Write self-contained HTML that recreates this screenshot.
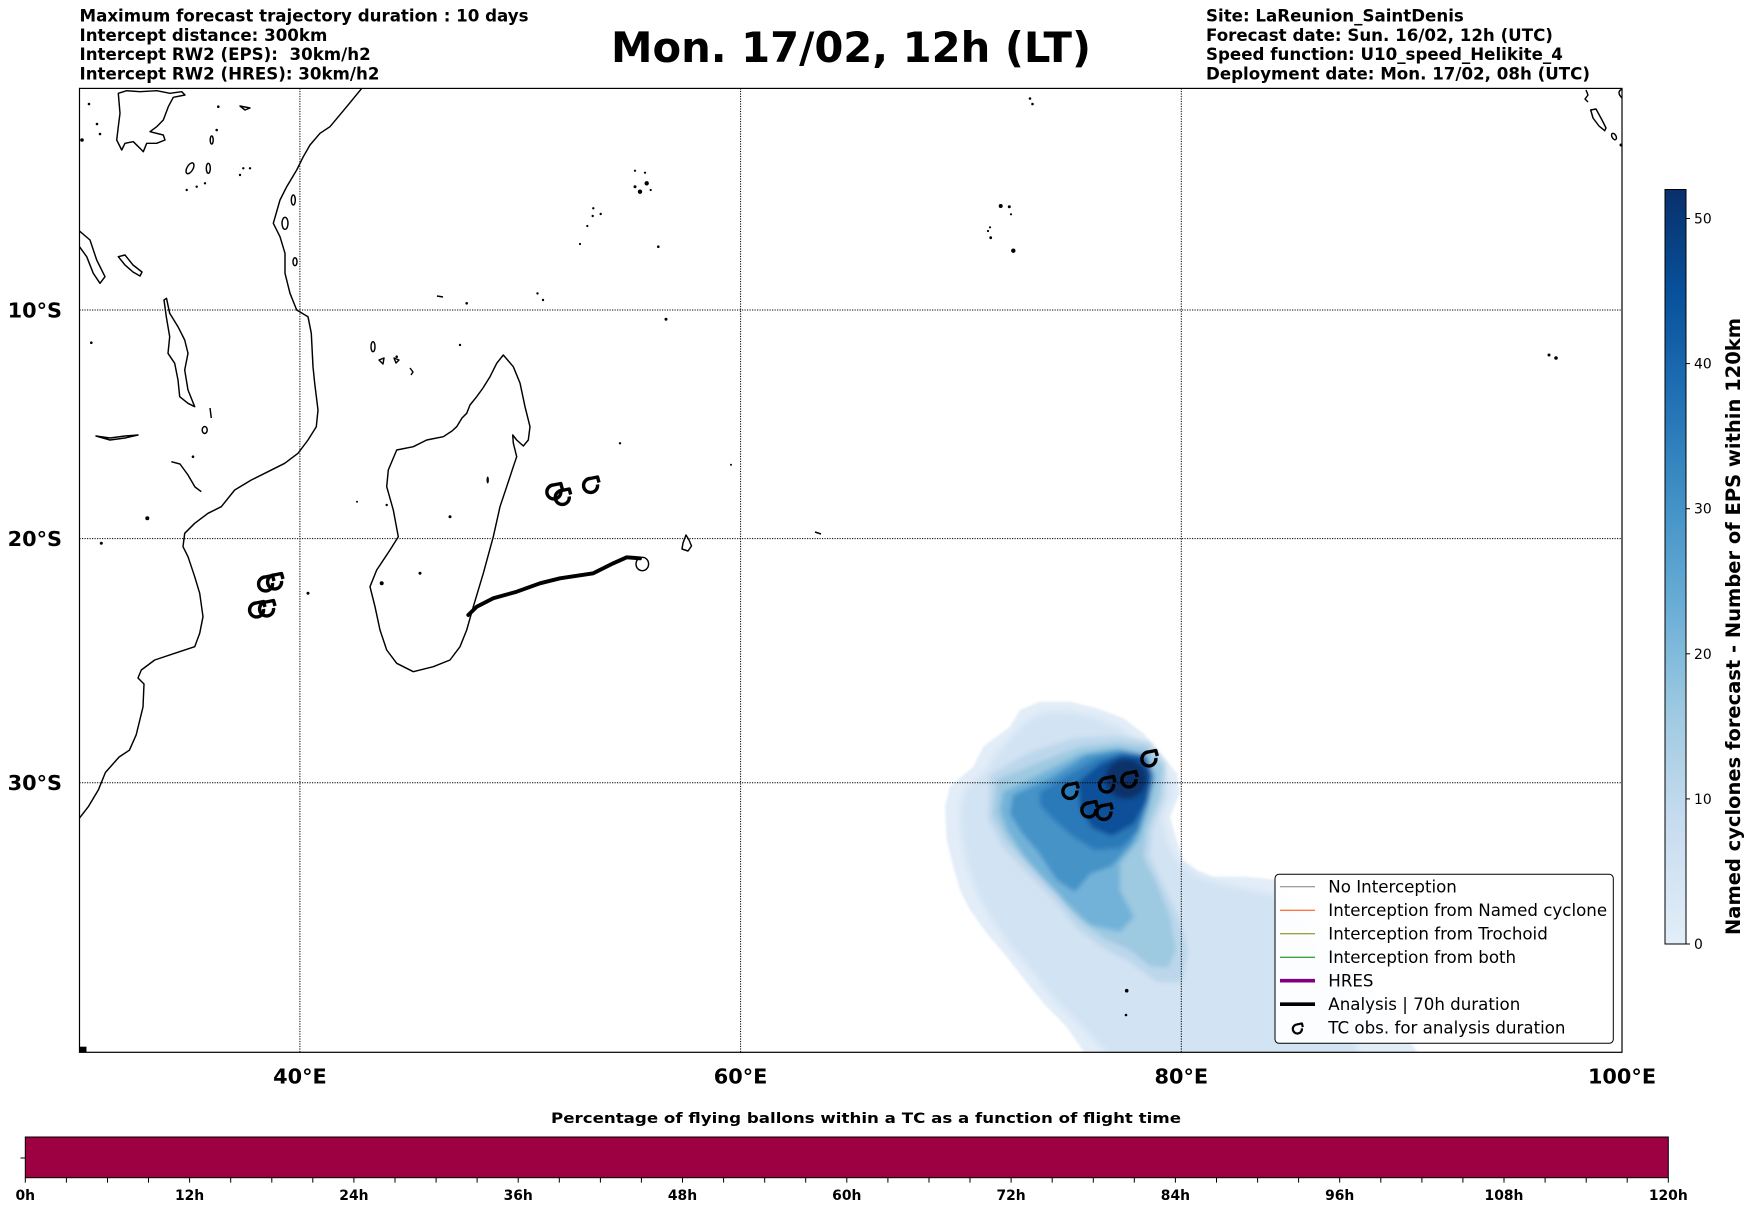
<!DOCTYPE html>
<html><head><meta charset="utf-8"><style>
html,body{margin:0;padding:0;background:#fff;}
svg{display:block;}
text{font-family:"DejaVu Sans","Liberation Sans",sans-serif;}
</style></head><body>
<svg width="1752" height="1213" viewBox="0 0 1752 1213" xmlns="http://www.w3.org/2000/svg">
<defs>
<linearGradient id="cb" x1="0" y1="1" x2="0" y2="0">
<stop offset="0" stop-color="#e3eef9"/><stop offset="0.028" stop-color="#deebf7"/><stop offset="0.167" stop-color="#c6dbef"/><stop offset="0.306" stop-color="#9ecae1"/><stop offset="0.444" stop-color="#6baed6"/><stop offset="0.583" stop-color="#4292c6"/><stop offset="0.722" stop-color="#2171b5"/><stop offset="0.861" stop-color="#08519c"/><stop offset="1" stop-color="#08306b"/>
</linearGradient>
<filter id="bl" x="-20%" y="-20%" width="140%" height="140%"><feGaussianBlur stdDeviation="2.5"/></filter>
<filter id="bl2" x="-20%" y="-20%" width="140%" height="140%"><feGaussianBlur stdDeviation="3.5"/></filter>
<filter id="bl1" x="-10%" y="-10%" width="120%" height="120%"><feGaussianBlur stdDeviation="1"/></filter>
<clipPath id="mapclip"><rect x="79.5" y="88.4" width="1542.5" height="963.9"/></clipPath>
<g id="tc"><path d="M7.5,-1 A7,7 0 1 1 0,-7 L7.5,-8.5 L9,-3" fill="none" stroke="#000" stroke-width="3.4" stroke-linejoin="round"/></g>
</defs>

<!-- header texts -->
<g font-weight="bold" font-size="16.67" fill="#000" style="white-space:pre">
<text x="79.5" y="21.6">Maximum forecast trajectory duration : 10 days</text>
<text x="79.5" y="40.9">Intercept distance: 300km</text>
<text x="79.5" y="60.2" xml:space="preserve">Intercept RW2 (EPS):  30km/h2</text>
<text x="79.5" y="79.5">Intercept RW2 (HRES): 30km/h2</text>
<text x="1206" y="21.6">Site: LaReunion_SaintDenis</text>
<text x="1206" y="40.9">Forecast date: Sun. 16/02, 12h (UTC)</text>
<text x="1206" y="60.2">Speed function: U10_speed_Helikite_4</text>
<text x="1206" y="79.5">Deployment date: Mon. 17/02, 08h (UTC)</text>
</g>
<text x="851" y="62" font-weight="bold" font-size="41.67" text-anchor="middle" textLength="480" lengthAdjust="spacingAndGlyphs">Mon. 17/02, 12h (LT)</text>

<g clip-path="url(#mapclip)">
<!-- EPS density blob -->
<path fill="#e2edf8" filter="url(#bl1)" d="M1020,710 L1040,701.7 L1070,701.7 L1096.7,708.3 L1123.3,718.3 L1143.3,733.3 L1163.3,756.7 L1176.7,773.3 L1180,793.3 L1170,816.7 L1176.7,840 L1183.3,860 L1196.7,870 L1213,876.7 L1246.7,876.7 L1276,880 L1300,900 L1330,940 L1380,1000 L1420,1056 L1086.7,1056 L1066.7,1026.7 L1046.7,1006.7 L1030,986.7 L1006.7,956.7 L986.7,933.3 L970,910 L960,890 L953.3,866.7 L946.7,840 L945,806.7 L950,786.7 L973.3,766.7 L983.3,746.7 L1010,726.7 Z"/>
<path fill="#d2e3f3" filter="url(#bl2)" d="M1025,722 L1045,712 L1070,712 L1095,718 L1120,728 L1140,742 L1158,762 L1170,780 L1172,795 L1162,816 L1168,842 L1178,862 L1200,878 L1240,888 L1276,895 L1300,930 L1330,980 L1360,1056 L1110,1056 L1080,1025 L1055,1000 L1035,975 L1012,948 L992,920 L978,895 L968,868 L962,840 L960,810 L965,790 L985,772 L995,755 L1012,737 Z"/>
<g filter="url(#bl)">
<path fill="#bcd7eb" d="M990,775 L1030,752 L1075,738 L1116.7,736 L1150,742 L1166,764 L1164,798 L1152,830 L1150,856 L1162,883 L1178,916 L1188,950 L1182,982 L1156.7,982 L1130,962 L1103.3,948 L1076.7,928 L1054,900 L1026,872 L1002,846 L988,818 Z"/>
<path fill="#9dc9e1" d="M996.7,780 L1036.7,763.3 L1080,746.7 L1116.7,743.3 L1146.7,746.7 L1163.3,766.7 L1160,796.7 L1146.7,830 L1143.3,856.7 L1156.7,883.3 L1170,916.7 L1176,950 L1168,968 L1150,966 L1130,950 L1103.3,938 L1076.7,918 L1056.7,893 L1030,866 L1006.7,840 L993.3,814 Z"/>
<path fill="#72b2d8" d="M1003,792 L1040,774 L1080,754 L1116.7,748 L1145,754 L1156,776 L1149,806.7 L1139,840 L1120,863.3 L1120,890 L1134,916.7 L1120,932 L1090,925 L1068,905 L1044,880 L1024,856.7 L1007,830 L1000,810 Z"/>
<path fill="#4593c7" d="M1013,795 L1050,778 L1086.7,755 L1120,750 L1147,755 L1153,780 L1145,810 L1132,843.3 L1112,866 L1090,874 L1075,892 L1056.7,880 L1038,852 L1021,832 L1010,814 Z"/>
<path fill="#2a79b9" d="M1040,792 L1070,774 L1098,758 L1125,752 L1147,757 L1153,778 L1148,802 L1138,832 L1120,848 L1095,850 L1072,836 L1052,818 L1040,805 Z"/>
<path fill="#0d4f98" d="M1078,782 L1100,764 L1120,755 L1142,756 L1152,772 L1147,800 L1134,824 L1112,836 L1092,828 L1080,808 Z"/>
<ellipse cx="1126" cy="779" rx="21" ry="20" fill="#08306b"/>
</g>

<!-- gridlines -->
<g stroke="#000" stroke-width="1" stroke-dasharray="1.2,1.3" fill="none">
<line x1="299.9" y1="88.4" x2="299.9" y2="1052.3"/>
<line x1="740.6" y1="88.4" x2="740.6" y2="1052.3"/>
<line x1="1181.3" y1="88.4" x2="1181.3" y2="1052.3"/>
<line x1="79.5" y1="310" x2="1622" y2="310"/>
<line x1="79.5" y1="538.6" x2="1622" y2="538.6"/>
<line x1="79.5" y1="782.7" x2="1622" y2="782.7"/>
</g>

<!-- coastlines -->
<g fill="none" stroke="#000" stroke-width="1.45" stroke-linejoin="round">
<path d="M361.7,88.4 L346.7,106.7 L330,126.7 L320,133.3 L310,145 L303.3,156.7 L296.7,170 L286.7,186.7 L280,200 L273.3,223.3 L280,236.7 L285,253.3 L285,273.3 L290,293.3 L296.7,310 L308,316.7 L311.3,333.3 L313,366.7 L314.7,383.3 L318,410 L316.3,426.7 L308,440 L298,453.3 L284.7,463.3 L268,471.7 L251.3,480 L234.7,490 L221.3,506.7 L208,513.3 L194.7,523.3 L184.7,533.3 L183,546.7 L188,556.7 L194.7,576.7 L199.7,593.3 L203,616.7 L199.7,633.3 L194.7,646.7 L174.7,653.3 L154.7,660 L141.3,670 L138,678 L144,684 L143,707 L136.2,734.8 L129.4,750.2 L119.1,757 L105.4,772.5 L98.5,789.6 L88.3,806.7 L79.5,818"/>
<path d="M503.3,355 L513.3,366.7 L520,383 L525,406.7 L530,426.7 L528.3,440 L523.3,446 L516.7,440 L512.7,435 L513.3,443 L516.7,456.7 L513.3,466.7 L506.7,486.7 L500,506.7 L493.3,536.7 L483.3,573.3 L473.3,606.7 L466.7,630 L460,646.7 L450,660 L433.3,666.7 L413.3,671.7 L396.7,663.3 L386.7,650 L380,630 L375,606.7 L370,586.7 L376.7,570 L390,550 L398.3,536.7 L393.3,510 L386.7,486.7 L388.3,470 L396.7,450 L413.3,446.7 L426.7,440 L443.3,436.7 L452,431 L456.7,426.7 L462,418 L466.7,413.3 L470,405 L476.7,396.7 L483,388 L490,376.7 L496.7,363.3 Z"/>
<path d="M118.3,93.3 L126.7,90.7 L140,91.7 L156.7,90.7 L170,93.3 L181.7,91.7 L185,95 L173.3,97.3 L168.3,106.7 L163.3,120 L156.7,126.7 L150,131.7 L163.3,135 L165,140 L156.7,143.3 L146.7,143.3 L143.3,151.7 L140,148.3 L133.3,141.7 L125,143.3 L121.7,150 L116.7,140 L118.3,126.7 L120,113.3 Z"/>
<path d="M79.5,231 L90,240 L96.7,260 L105,276.7 L100,283.3 L93.3,273.3 L86.7,256.7 L79.5,246.7"/>
<path d="M118.3,256.7 L125,255 L133,265 L142,272 L140,276 L133,272 L125,265 Z"/>
<path d="M166.5,298.3 L169.7,313.3 L178,326.7 L184.7,340 L188,353.3 L184.7,370 L188,390 L194.7,406.7 L188,403.3 L179.7,396.7 L178,380 L174.7,363.3 L168,353.3 L169.7,336.7 L166.3,316.7 L164,300 Z"/>
<path d="M96,436 L110,438 L125,436 L138,435 L125,438 L110,440 Z"/>
<path d="M171.3,461.7 L180,464 L188,475 L195,487 L201.3,491.7"/>
<path d="M210,408 L211.3,418"/>
<ellipse cx="204.7" cy="430" rx="2.5" ry="3.5"/>
<ellipse cx="190" cy="168.3" rx="3" ry="6" transform="rotate(30 190 168.3)"/>
<ellipse cx="208.3" cy="168.3" rx="2" ry="5"/>
<ellipse cx="211.7" cy="140" rx="1.5" ry="4"/>
<path d="M240,106 L250,108 L245,110 Z"/>
<ellipse cx="293.3" cy="200" rx="2" ry="5"/>
<ellipse cx="285" cy="223.3" rx="3" ry="6"/>
<ellipse cx="295" cy="261.7" rx="2" ry="4"/>
<ellipse cx="373" cy="346.7" rx="2" ry="5"/>
<path d="M379,360 L384,358 L383,364 Z"/>
<path d="M394,358 L399,360 L396,363 Z"/>
<path d="M410,368 L413,372 L411,375"/>
<path d="M437,296 L443,297"/>
<ellipse cx="642.3" cy="564" rx="6.3" ry="6.7"/>
<path d="M686,535 L689,540 L691.5,546 L688,551 L682,549 L683,543 Z"/>
<path d="M1590.7,110 L1596,109 L1602,120 L1606,128 L1604.7,130.7 L1599,126 L1593,118 Z"/>
<ellipse cx="1614" cy="136.5" rx="2" ry="3.5" transform="rotate(-30 1614 136.5)"/>
<path d="M1622,89 Q1616,92 1622,98"/>
<path d="M1586,90 L1588,95 L1585,99 L1588,102"/>
<path d="M815,532 L821,534"/>
</g>
<g fill="#000">
<circle cx="91.3" cy="342.7" r="1.3"/><circle cx="193" cy="456.7" r="1.3"/><circle cx="147.3" cy="518.3" r="2"/><circle cx="101.3" cy="543.3" r="1.5"/>
<circle cx="308" cy="593.3" r="1.5"/><circle cx="460" cy="345" r="1.2"/><circle cx="620" cy="443.3" r="1.2"/><circle cx="386.7" cy="505" r="1.2"/>
<circle cx="450" cy="516.7" r="1.5"/><circle cx="420" cy="573.3" r="1.5"/><ellipse cx="487.7" cy="480" rx="1.2" ry="3.5"/><circle cx="381.7" cy="583.3" r="2"/>
<circle cx="396.7" cy="356.7" r="1.3"/><circle cx="466.7" cy="303.3" r="1.3"/><circle cx="82" cy="140" r="1.8"/><circle cx="97" cy="124" r="1.3"/><circle cx="100" cy="134" r="1.3"/>
<circle cx="216.7" cy="130" r="1.3"/><circle cx="218.3" cy="106.7" r="1.3"/><circle cx="186.7" cy="190" r="1.2"/><circle cx="196.7" cy="186.7" r="1.2"/><circle cx="205" cy="183.3" r="1.2"/>
<circle cx="243.3" cy="168.3" r="1.2"/><circle cx="250" cy="168.3" r="1.2"/><circle cx="240" cy="175" r="1.2"/><circle cx="89" cy="104" r="1.3"/>
<circle cx="640" cy="191.7" r="2.2"/><circle cx="646.7" cy="183.3" r="2.2"/><circle cx="635" cy="186.7" r="1.5"/><circle cx="635" cy="170.7" r="1.1"/><circle cx="645" cy="172.7" r="1.1"/><circle cx="650.7" cy="190" r="1.1"/>
<circle cx="593.3" cy="208.3" r="1.2"/><circle cx="592.7" cy="216" r="1.2"/><circle cx="600.7" cy="214" r="1.2"/><circle cx="587.3" cy="226" r="1.1"/><circle cx="580" cy="244" r="1.1"/><circle cx="658.3" cy="246.7" r="1.3"/><circle cx="666" cy="319.3" r="1.5"/>
<circle cx="537.5" cy="293.4" r="1.2"/><circle cx="543" cy="300" r="1.2"/><circle cx="731" cy="464.7" r="1"/><circle cx="357" cy="501.7" r="1"/>
<circle cx="1000.7" cy="206" r="2"/><circle cx="1009.3" cy="206.7" r="1.5"/><circle cx="1011" cy="214.3" r="1.1"/><circle cx="990" cy="227.3" r="1.1"/><circle cx="988" cy="231" r="1.1"/><circle cx="990.7" cy="237.7" r="1.4"/><circle cx="1013.3" cy="250.7" r="2.2"/>
<circle cx="1030" cy="98.5" r="1.3"/><circle cx="1032.5" cy="104" r="1.3"/><circle cx="1549" cy="355" r="1.5"/><circle cx="1556" cy="358" r="1.8"/><circle cx="1621" cy="145" r="1.5"/>
<circle cx="1126.7" cy="990.7" r="1.8"/><circle cx="1126" cy="1015" r="1.3"/>
<rect x="79.5" y="1046.7" width="7" height="5.6"/>
</g>

<!-- analysis track -->
<polyline fill="none" stroke="#000" stroke-width="3.9" stroke-linejoin="round" stroke-linecap="round" points="468.3,615 476.7,606.7 493.3,598.3 516.7,591.7 540,583.3 560,578.3 593.3,573.3 613.3,563.3 626.7,557.3 640,558.3"/>

<!-- TC markers -->
<use href="#tc" x="265" y="584"/><use href="#tc" x="274" y="582"/>
<use href="#tc" x="256" y="610"/><use href="#tc" x="266" y="609"/>
<use href="#tc" x="553.3" y="492"/><use href="#tc" x="561.7" y="497.5"/><use href="#tc" x="590" y="485.5"/>
<use href="#tc" x="1148.3" y="759"/><use href="#tc" x="1128.3" y="780"/><use href="#tc" x="1106" y="785"/>
<use href="#tc" x="1069.3" y="791.5"/><use href="#tc" x="1088.3" y="810"/><use href="#tc" x="1103.3" y="812.5"/>
</g>

<!-- map frame -->
<rect x="79.5" y="88.4" width="1542.5" height="963.9" fill="none" stroke="#000" stroke-width="1.2"/>

<!-- legend -->
<rect x="1275" y="874.3" width="338.3" height="169" rx="4" ry="4" fill="#fff" fill-opacity="0.9" stroke="#000" stroke-width="1"/>
<g stroke-linecap="butt">
<line x1="1280" y1="886.7" x2="1315" y2="886.7" stroke="#808080" stroke-width="1"/>
<line x1="1280" y1="910.2" x2="1315" y2="910.2" stroke="#ff4500" stroke-width="1"/>
<line x1="1280" y1="933.7" x2="1315" y2="933.7" stroke="#808000" stroke-width="1"/>
<line x1="1280" y1="957.2" x2="1315" y2="957.2" stroke="#008000" stroke-width="1"/>
<line x1="1280" y1="980.7" x2="1315" y2="980.7" stroke="#800080" stroke-width="3.6"/>
<line x1="1280" y1="1004.2" x2="1315" y2="1004.2" stroke="#000" stroke-width="3.6"/>
</g>
<use href="#tc" transform="translate(1297 1029) scale(0.65)"/>
<g font-size="16.67" fill="#000">
<text x="1328.3" y="892.7">No Interception</text>
<text x="1328.3" y="916.2">Interception from Named cyclone</text>
<text x="1328.3" y="939.7">Interception from Trochoid</text>
<text x="1328.3" y="963.2">Interception from both</text>
<text x="1328.3" y="986.7">HRES</text>
<text x="1328.3" y="1010.2">Analysis | 70h duration</text>
<text x="1328.3" y="1033.7">TC obs. for analysis duration</text>
</g>

<!-- axis labels -->
<g font-weight="bold" font-size="20.83" fill="#000">
<text x="62" y="317.5" text-anchor="end">10°S</text>
<text x="62" y="546.1" text-anchor="end">20°S</text>
<text x="62" y="790.2" text-anchor="end">30°S</text>
<text x="299.9" y="1083.3" text-anchor="middle">40°E</text>
<text x="740.6" y="1083.3" text-anchor="middle">60°E</text>
<text x="1181.3" y="1083.3" text-anchor="middle">80°E</text>
<text x="1622" y="1083.3" text-anchor="middle">100°E</text>
</g>

<!-- right colorbar -->
<rect x="1665" y="189.5" width="21" height="754.5" fill="url(#cb)" stroke="#000" stroke-width="1"/>
<g stroke="#000" stroke-width="1">
<line x1="1686" y1="944" x2="1690" y2="944"/><line x1="1686" y1="798.9" x2="1690" y2="798.9"/><line x1="1686" y1="653.8" x2="1690" y2="653.8"/>
<line x1="1686" y1="508.7" x2="1690" y2="508.7"/><line x1="1686" y1="363.6" x2="1690" y2="363.6"/><line x1="1686" y1="218.5" x2="1690" y2="218.5"/>
</g>
<g font-size="13.9" fill="#000">
<text x="1694" y="949">0</text><text x="1694" y="803.9">10</text><text x="1694" y="658.8">20</text>
<text x="1694" y="513.7">30</text><text x="1694" y="368.6">40</text><text x="1694" y="223.5">50</text>
</g>
<text transform="translate(1740 626.5) rotate(-90)" text-anchor="middle" font-weight="bold" font-size="19.44" textLength="617" lengthAdjust="spacingAndGlyphs">Named cyclones forecast - Number of EPS within 120km</text>

<!-- bottom colorbar -->
<text x="866" y="1123" text-anchor="middle" font-weight="bold" font-size="14.6" textLength="630" lengthAdjust="spacingAndGlyphs">Percentage of flying ballons within a TC as a function of flight time</text>
<rect x="25.3" y="1137" width="1643" height="40.7" fill="#9e0142" stroke="#000" stroke-width="1"/>
<line x1="20.5" y1="1158" x2="25.3" y2="1158" stroke="#000" stroke-width="1"/>
<path stroke="#000" stroke-width="1" fill="none" d="M25.3,1177.7v4.9M66.4,1177.7v4.9M107.5,1177.7v4.9M148.5,1177.7v4.9M189.6,1177.7v4.9M230.7,1177.7v4.9M271.8,1177.7v4.9M312.8,1177.7v4.9M353.9,1177.7v4.9M395,1177.7v4.9M436.1,1177.7v4.9M477.1,1177.7v4.9M518.2,1177.7v4.9M559.3,1177.7v4.9M600.4,1177.7v4.9M641.4,1177.7v4.9M682.5,1177.7v4.9M723.6,1177.7v4.9M764.7,1177.7v4.9M805.7,1177.7v4.9M846.8,1177.7v4.9M887.9,1177.7v4.9M929,1177.7v4.9M970,1177.7v4.9M1011.1,1177.7v4.9M1052.2,1177.7v4.9M1093.3,1177.7v4.9M1134.3,1177.7v4.9M1175.4,1177.7v4.9M1216.5,1177.7v4.9M1257.6,1177.7v4.9M1298.6,1177.7v4.9M1339.7,1177.7v4.9M1380.8,1177.7v4.9M1421.9,1177.7v4.9M1462.9,1177.7v4.9M1504,1177.7v4.9M1545.1,1177.7v4.9M1586.2,1177.7v4.9M1627.2,1177.7v4.9M1668.3,1177.7v4.9"/>
<g font-weight="bold" font-size="13.9" fill="#000" text-anchor="middle">
<text x="25.3" y="1200">0h</text><text x="189.6" y="1200">12h</text><text x="353.9" y="1200">24h</text><text x="518.2" y="1200">36h</text>
<text x="682.5" y="1200">48h</text><text x="846.8" y="1200">60h</text><text x="1011.1" y="1200">72h</text><text x="1175.4" y="1200">84h</text>
<text x="1339.7" y="1200">96h</text><text x="1504" y="1200">108h</text><text x="1668.3" y="1200">120h</text>
</g>
</svg>
</body></html>
